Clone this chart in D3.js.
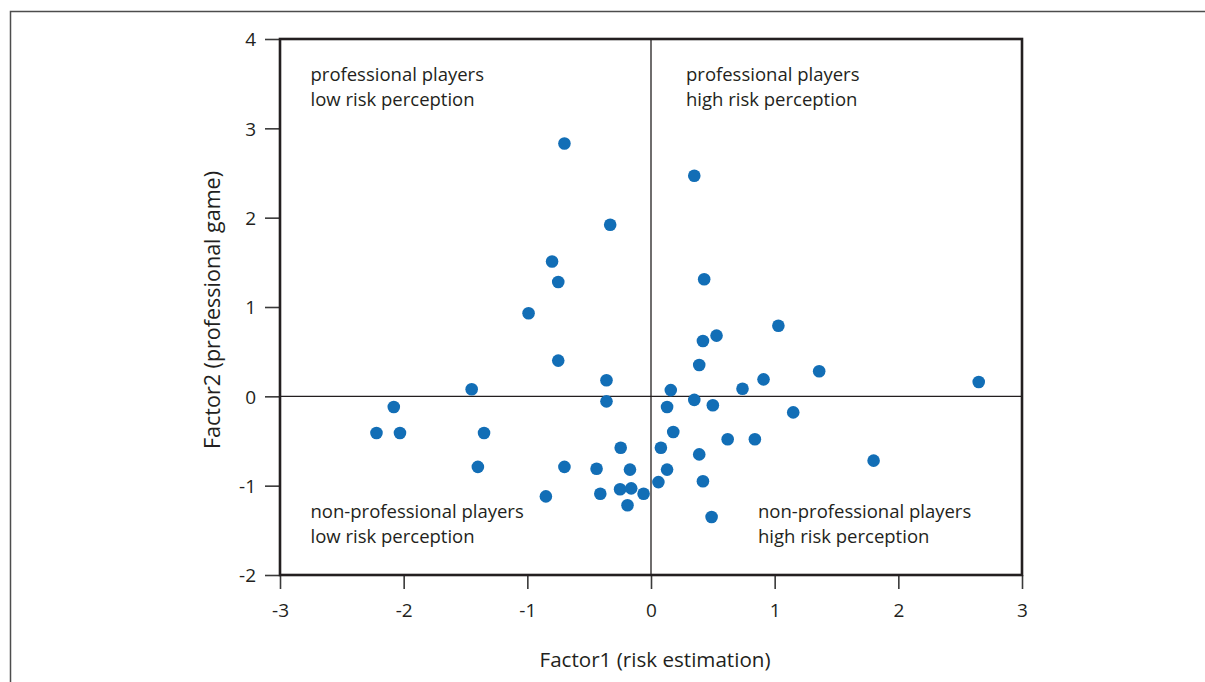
<!DOCTYPE html>
<html>
<head>
<meta charset="utf-8">
<script src="https://cdn.jsdelivr.net/npm/d3@7"></script>
<style>
  html, body { margin: 0; padding: 0; background: #fff; }
  svg { display: block; }
  text { font-family: "Open Sans", sans-serif; fill: #231f20; }
</style>
</head>
<body>
<svg id="chart" width="1205" height="682"></svg>
<script>
// Data (Factor1, Factor2)
const factor1 = [-0.70, 0.35, -0.33, -0.80, -0.75, -0.99, 0.43, 1.03, 0.53, 0.42,
  -0.75, 0.39, 1.36, 0.91, 0.74, 2.65, -1.45, -0.36, -0.36, 0.16,
  0.35, 0.13, 0.50, 1.15, -2.08, -2.22, -2.03, -1.35, 0.18, -0.245,
  0.08, 0.62, 0.84, 1.80, -1.40, -0.70, -0.44, -0.17, 0.13, 0.39,
  -0.85, -0.41, -0.25, -0.16, -0.06, 0.06, -0.19, 0.42, 0.49];
const factor2 = [2.83, 2.47, 1.92, 1.51, 1.28, 0.93, 1.31, 0.79, 0.68, 0.62,
  0.40, 0.35, 0.28, 0.19, 0.085, 0.16, 0.08, 0.18, -0.056, 0.07,
  -0.04, -0.12, -0.10, -0.18, -0.12, -0.41, -0.41, -0.41, -0.40, -0.575,
  -0.575, -0.48, -0.48, -0.72, -0.79, -0.79, -0.81, -0.82, -0.82, -0.65,
  -1.12, -1.09, -1.04, -1.03, -1.09, -0.96, -1.22, -0.95, -1.35];
const xTicks = [-3, -2, -1, 0, 1, 2, 3];
const yTicks = [-2, -1, 0, 1, 2, 3, 4];
const labelTopLeft = ["professional players", "low risk perception"];
const labelTopRight = ["professional players", "high risk perception"];
const labelBottomLeft = ["non-professional players", "low risk perception"];
const labelBottomRight = ["non-professional players", "high risk perception"];
const xTitle = "Factor1 (risk estimation)";
const yTitle = "Factor2 (professional game)";

const svg = d3.select("#chart");
const mLeft = 280, mRight = 1022, mTop = 39, mBottom = 575;
const x = d3.scaleLinear().domain([-3, 3]).range([mLeft, mRight]);
const y = d3.scaleLinear().domain([-2, 4]).range([mBottom, mTop]);

// outer frame
svg.append("rect").attr("x", 10.5).attr("y", 11.5).attr("width", 1300).attr("height", 800)
  .attr("fill", "none").attr("stroke", "#4d4d4d").attr("stroke-width", 1.5);

// axes
const xAxis = svg.append("g").attr("transform", `translate(0,${mBottom})`)
  .call(d3.axisBottom(x).tickValues(xTicks).tickFormat(d3.format("d")).tickSize(14).tickPadding(10));
const yAxis = svg.append("g").attr("transform", `translate(${mLeft},0)`)
  .call(d3.axisLeft(y).tickValues(yTicks).tickFormat(d3.format("d")).tickSize(15).tickPadding(9));
[xAxis, yAxis].forEach(g => {
  g.select(".domain").remove();
  g.selectAll(".tick line").attr("stroke", "#3a3a3a").attr("stroke-width", 1.6);
  g.selectAll(".tick text").style("font-family", '"Open Sans", sans-serif')
    .style("font-size", "19px").attr("fill", "#231f20");
});
yAxis.selectAll(".tick text").attr("dy", "0.36em");
xAxis.selectAll(".tick text").attr("dy", "0.95em");
// hyphen-minus like the reference
svg.selectAll(".tick text").text(d => String(d));

// zero lines
svg.append("line").attr("x1", x(0)).attr("x2", x(0)).attr("y1", mTop).attr("y2", mBottom)
  .attr("stroke", "#231f20").attr("stroke-width", 1.3);
svg.append("line").attr("x1", mLeft).attr("x2", mRight).attr("y1", y(0)).attr("y2", y(0))
  .attr("stroke", "#231f20").attr("stroke-width", 1.3);

// plot frame
svg.append("rect").attr("x", mLeft).attr("y", mTop).attr("width", mRight - mLeft).attr("height", mBottom - mTop)
  .attr("fill", "none").attr("stroke", "#231f20").attr("stroke-width", 2.6);

// points
svg.append("g").selectAll("circle").data(factor1.map((d, i) => [d, factor2[i]]))
  .join("circle")
  .attr("cx", d => x(d[0])).attr("cy", d => y(d[1])).attr("r", 6.3)
  .attr("fill", "#126eb6");

// quadrant labels
function quadLabel(lines, px, py) {
  const t = svg.append("text").style("font-size", "18.5px").attr("x", px).attr("y", py);
  lines.forEach((l, i) => t.append("tspan").attr("x", px).attr("dy", i === 0 ? 0 : 24.5).text(l));
}
quadLabel(labelTopLeft, x(-3) + 30.5, y(4) + 42);
quadLabel(labelTopRight, x(0) + 35, y(4) + 42);
quadLabel(labelBottomLeft, x(-3) + 30.5, y(-2) - 57);
quadLabel(labelBottomRight, x(0) + 107, y(-2) - 57);

// axis titles
svg.append("text").attr("x", 655).attr("y", 667).attr("text-anchor", "middle")
  .style("font-size", "20.6px").text(xTitle);
svg.append("text").attr("transform", `translate(220,310) rotate(-90)`)
  .attr("text-anchor", "middle").style("font-size", "21.5px").text(yTitle);
</script>
</body>
</html>
